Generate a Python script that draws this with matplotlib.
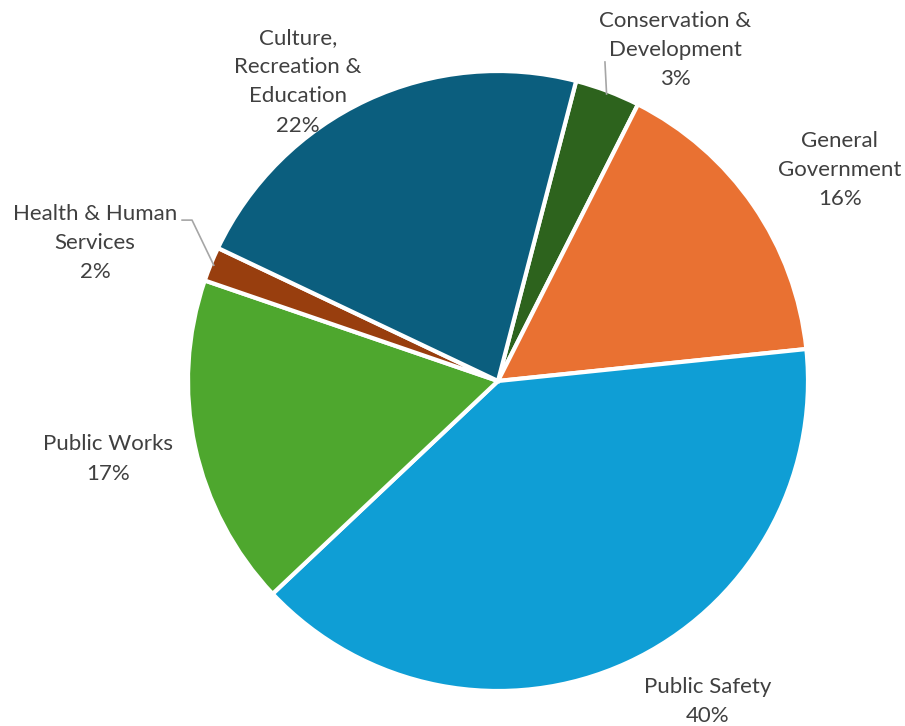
import numpy as np
import matplotlib
matplotlib.use("Agg")
import matplotlib.pyplot as plt

# Slice data, clockwise from the top
categories = ["Conservation &\nDevelopment", "General\nGovernment", "Public Safety",
              "Public Works", "Health & Human\nServices", "Culture,\nRecreation &\nEducation"]
shares = [3.4, 15.9, 39.6, 17.3, 1.8, 22.0]
colors = ["#2D631D", "#E97132", "#0F9ED5", "#4EA72E", "#983E0E", "#0B5E7E"]

# label centre positions (pie radius = 1)
label_pos = [(0.571, 1.068), (1.103, 0.681), (0.677, -1.035),
             (-1.258, -0.252), (-1.30, 0.445), (-0.645, 0.965)]

plt.rcParams["font.family"] = ["Lato", "DejaVu Sans"]

fig = plt.figure(figsize=(9.05, 7.26), dpi=100)
ax = fig.add_axes([0, 0, 1, 1])

wedges, _ = ax.pie(shares, colors=colors, startangle=90 - 14.6, counterclock=False,
                   radius=1.0, wedgeprops=dict(edgecolor="white", linewidth=3))

total = sum(shares)
for i, (w, cat, v) in enumerate(zip(wedges, categories, shares)):
    x, y = label_pos[i]
    ax.text(x, y, f"{cat}\n{round(v / total * 100):.0f}%", ha="center", va="center",
            fontsize=16, color="#404040", linespacing=1.58)

# leader lines for the two thin slices
def mid_point(w, r=0.99):
    a = np.deg2rad((w.theta1 + w.theta2) / 2)
    return r * np.cos(a), r * np.sin(a)

hx, hy = mid_point(wedges[4])
ax.plot([-1.019, -0.987, hx], [0.519, 0.519, hy], color="#A6A6A6", lw=1.2)
cx, cy = mid_point(wedges[0])
ax.plot([0.345, cx], [1.029, cy], color="#A6A6A6", lw=1.2)

ax.set_xlim(-498 / 310, (905 - 498) / 310)
ax.set_ylim((381 - 726) / 310, 381 / 310)
ax.set_aspect("auto")
ax.axis("off")

fig.savefig("out.png", dpi=100, facecolor="white")
